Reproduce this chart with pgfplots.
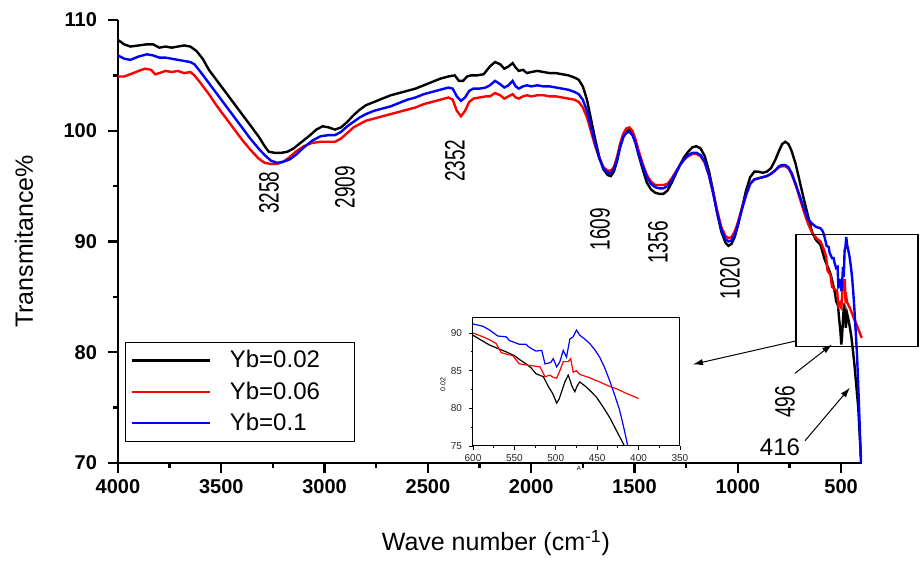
\documentclass[border=0pt]{standalone}
\usepackage{fontspec}
\setmainfont{Liberation Sans}
\newfontfamily\narrowfont[FakeStretch=0.68]{Liberation Sans}
\usepackage{pgfplots}
\pgfplotsset{compat=1.18}
\usepackage{pgfplotstable}
\usetikzlibrary{arrows.meta}

\pgfplotstableread{
x y
4000 108.2
3970 107.8
3940 107.6
3900 107.7
3860 107.8
3830 107.8
3800 107.5
3770 107.6
3740 107.5
3710 107.6
3680 107.7
3650 107.6
3620 107.2
3590 106.5
3560 105.5
3520 104.5
3480 103.5
3440 102.5
3400 101.5
3360 100.5
3320 99.5
3290 98.6
3270 98.1
3240 98.0
3210 98.0
3180 98.1
3150 98.4
3110 99.0
3070 99.6
3040 100.1
3010 100.4
2980 100.3
2950 100.1
2920 100.3
2890 100.8
2860 101.4
2830 101.9
2800 102.3
2760 102.6
2720 102.9
2680 103.2
2640 103.4
2600 103.6
2560 103.8
2520 104.1
2480 104.4
2440 104.7
2400 104.9
2370 105.0
2350 104.5
2330 104.5
2310 104.9
2290 105.0
2260 105.0
2230 105.1
2200 105.8
2175 106.2
2150 106.0
2130 105.6
2110 105.8
2090 106.1
2075 105.7
2060 105.4
2040 105.5
2020 105.2
2000 105.3
1970 105.4
1940 105.3
1910 105.2
1880 105.2
1850 105.1
1820 105.0
1790 104.8
1770 104.6
1750 104.0
1730 102.8
1710 101.0
1690 99.2
1670 97.6
1650 96.5
1630 96.0
1615 95.9
1600 96.3
1585 97.2
1570 98.5
1555 99.4
1540 99.9
1525 100.1
1510 99.8
1495 98.9
1480 97.8
1460 96.5
1440 95.3
1420 94.7
1400 94.4
1380 94.3
1360 94.3
1340 94.6
1320 95.3
1300 96.1
1280 96.9
1260 97.6
1240 98.1
1220 98.5
1200 98.6
1180 98.4
1160 97.7
1140 96.4
1120 94.6
1100 92.6
1080 90.9
1060 89.9
1045 89.6
1030 89.8
1015 90.4
1000 91.4
980 93.0
960 94.6
940 95.8
920 96.3
900 96.3
880 96.2
860 96.3
840 96.6
820 97.3
800 98.2
785 98.8
770 99.0
755 98.8
740 98.2
720 97.0
700 95.4
680 93.8
660 92.3
640 90.8
620 90.1
600 89.7
580 88.4
560 87.5
550 87.0
544 86.5
536 85.9
530 85.4
524 84.6
515 84.2
509 82.9
505 82.2
503 81.8
499 80.7
496 81.2
493 82.2
489 83.5
485 84.4
483 83.8
481 83.1
479 82.6
477 82.2
474 83.0
471 83.5
465 83.0
459 82.4
451 81.5
443 80.2
435 78.8
427 77.1
417 75.0
410 72.5
404 70.5
}\blackdata

\pgfplotstableread{
x y
4000 104.9
3970 104.9
3940 105.1
3900 105.4
3870 105.6
3840 105.5
3820 105.1
3800 105.2
3770 105.4
3740 105.3
3710 105.4
3680 105.2
3650 105.3
3630 105.0
3600 104.3
3560 103.3
3520 102.2
3480 101.2
3440 100.2
3400 99.2
3360 98.3
3320 97.5
3290 97.1
3260 97.0
3230 97.0
3200 97.2
3170 97.6
3140 98.1
3100 98.6
3060 98.9
3020 99.0
2980 99.0
2950 99.0
2920 99.3
2890 99.8
2860 100.3
2830 100.6
2800 100.9
2760 101.1
2720 101.3
2680 101.5
2640 101.7
2600 101.9
2560 102.1
2520 102.4
2480 102.6
2440 102.8
2400 103.0
2380 102.8
2360 101.8
2340 101.3
2320 101.8
2300 102.6
2280 102.9
2250 103.0
2220 103.1
2200 103.1
2175 103.4
2150 103.2
2130 102.9
2110 103.1
2090 103.3
2075 103.0
2060 102.9
2040 103.1
2020 103.2
2000 103.1
1970 103.2
1940 103.2
1910 103.1
1880 103.1
1850 103.0
1820 102.9
1790 102.8
1770 102.6
1750 102.1
1730 101.2
1710 99.9
1690 98.6
1670 97.5
1650 96.7
1630 96.4
1615 96.4
1600 96.7
1585 97.6
1570 98.8
1555 99.7
1540 100.2
1525 100.3
1510 100.0
1495 99.2
1480 98.2
1460 97.0
1440 96.0
1420 95.4
1400 95.1
1380 95.1
1360 95.1
1340 95.2
1320 95.7
1300 96.3
1280 96.9
1260 97.4
1240 97.7
1220 97.9
1200 97.9
1180 97.7
1160 97.1
1140 96.0
1120 94.5
1100 92.8
1080 91.3
1060 90.5
1045 90.3
1030 90.4
1015 90.9
1000 91.7
980 93.0
960 94.2
940 95.2
920 95.6
900 95.7
880 95.8
860 95.9
840 96.1
820 96.4
800 96.7
785 96.8
770 96.8
755 96.6
740 96.1
720 95.1
700 93.9
680 92.7
660 91.6
640 90.8
620 90.3
600 90.0
588 89.5
580 89.1
572 88.6
566 87.4
560 87.2
552 87.0
544 85.9
532 85.7
525 85.6
519 85.5
513 84.2
507 84.4
503 84.1
499 84.0
495 85.0
491 86.2
485 86.2
482 86.6
479 84.8
475 85.0
471 84.5
460 84.1
447 83.5
437 83.0
427 82.6
415 82.0
400 81.3
}\reddata

\pgfplotstableread{
x y
4000 106.8
3970 106.5
3940 106.4
3900 106.7
3860 106.9
3830 106.8
3800 106.6
3770 106.6
3740 106.5
3710 106.4
3680 106.3
3650 106.2
3630 106.0
3600 105.3
3560 104.3
3520 103.3
3480 102.3
3440 101.3
3400 100.3
3360 99.3
3320 98.4
3290 97.8
3260 97.3
3230 97.1
3200 97.2
3170 97.4
3140 97.8
3100 98.5
3060 99.1
3020 99.5
2980 99.6
2950 99.6
2920 99.9
2890 100.4
2860 100.8
2830 101.2
2800 101.5
2760 101.8
2720 102.0
2680 102.2
2640 102.5
2600 102.8
2560 103.0
2520 103.3
2480 103.5
2440 103.7
2400 103.9
2380 103.8
2360 103.1
2340 102.7
2320 103.0
2300 103.6
2280 103.8
2250 103.8
2220 103.9
2200 104.1
2175 104.5
2150 104.2
2130 103.9
2110 104.1
2090 104.5
2075 104.0
2060 103.8
2040 104.0
2020 104.1
2000 104.0
1970 104.1
1940 104.0
1910 104.0
1880 103.9
1850 103.8
1820 103.7
1790 103.5
1770 103.3
1750 102.8
1730 101.8
1710 100.3
1690 98.8
1670 97.5
1650 96.6
1630 96.2
1615 96.2
1600 96.5
1585 97.4
1570 98.5
1555 99.4
1540 99.8
1525 99.9
1510 99.6
1495 98.9
1480 97.9
1460 96.8
1440 95.8
1420 95.2
1400 94.9
1380 94.8
1360 94.8
1340 95.0
1320 95.5
1300 96.2
1280 96.9
1260 97.4
1240 97.8
1220 98.0
1200 98.0
1180 97.8
1160 97.2
1140 96.0
1120 94.4
1100 92.6
1080 91.1
1060 90.2
1045 90.0
1030 90.1
1015 90.6
1000 91.5
980 92.9
960 94.2
940 95.2
920 95.6
900 95.7
880 95.8
860 95.9
840 96.1
820 96.4
800 96.8
785 96.9
770 96.9
755 96.7
740 96.2
720 95.2
700 94.1
680 93.0
660 92.0
640 91.6
620 91.3
600 91.2
588 90.9
580 90.4
570 89.6
560 89.5
556 89.0
544 88.5
536 88.5
532 88.1
524 87.6
517 87.7
513 85.9
509 86.0
506 86.1
503 86.6
499 85.5
495 86.2
491 87.7
487 86.8
483 89.2
479 89.5
475 90.4
471 89.7
465 89.2
459 88.6
453 87.8
447 86.8
441 85.4
435 83.7
429 81.8
423 79.8
418 77.5
413 75.0
408 72.3
404 70.0
}\bluedata

\begin{document}
\begin{tikzpicture}
\begin{axis}[
  name=main, at={(0,0)}, anchor=south west,
  scale only axis, width=372pt, height=221.5pt,
  x dir=reverse, xmin=399, xmax=4000, ymin=70, ymax=110,
  axis x line*=bottom, axis y line*=left,
  axis line style={line width=1.4pt},
  xtick={500,1000,...,4000}, ytick={70,80,...,110},
  minor x tick num=1, minor y tick num=1,
  tick align=outside, major tick length=5pt, minor tick length=2.5pt,
  every tick/.append style={line width=1.2pt, black},
  tick label style={font=\bfseries\fontsize{10}{12}\selectfont},
  yticklabel style={xshift=-2pt},
  /pgf/number format/assume math mode=true,
  /pgf/number format/set thousands separator={},
  xlabel={Wave number (cm\textsuperscript{-1})},
  ylabel={Transmitance\%},
  label style={font=\fontsize{12.5}{14}\selectfont},
  xlabel style={at={(axis description cs:0.508,-0.1806)}, anchor=center},
  ylabel style={at={(axis description cs:-0.1263,0.5)}, anchor=center},
  clip=false,
  legend style={at={(axis description cs:0.0094,0.2731)}, anchor=north west,
    draw=black, line width=0.5pt, font=\fontsize{12}{13}\selectfont,
    inner xsep=2.5pt, inner ysep=1.3pt, row sep=0pt,
    nodes={inner xsep=0pt, inner ysep=2.7pt, text width=60pt, align=left},
    /tikz/column 1/.style={column sep=9.5pt}},
  legend cell align=left,
  legend image code/.code={\draw[#1, line width=1.2pt] (0pt,0pt) -- (39pt,0pt);},
]
\path (rel axis cs:-0.1586,-0.2099) rectangle (rel axis cs:1.078,1.0451);
\draw[line width=1.4pt] (axis cs:4050,70) -- (axis cs:4000,70);
\addplot[black, line width=1.2pt] table {\blackdata};
\addplot[red, line width=1.2pt] table {\reddata};
\addplot[blue, line width=1.2pt] table {\bluedata};
\legend{Yb=0.02, Yb=0.06, Yb=0.1}
\begin{scope}[every node/.style={font=\narrowfont\fontsize{14}{14}\selectfont, rotate=90, inner sep=0pt}]
\node at (axis cs:3269,94.4) {3258};
\node at (axis cs:2901,94.9) {2909};
\node at (axis cs:2369,97.3) {2352};
\node at (axis cs:1667,91.1) {1609};
\node at (axis cs:1386,89.9) {1356};
\node at (axis cs:1038,86.7) {1020};
\node at (axis cs:772,75.5) {496};
\end{scope}
\node[font=\fontsize{12}{12}\selectfont, inner sep=0pt] at (axis cs:796,71.4) {416};
\draw[line width=0.6pt] (axis cs:718,90.6) rectangle (axis cs:128,80.5);
\draw[-{Latex[length=5pt,width=3.2pt]}, line width=0.5pt] (axis cs:723,78.1) -- (axis cs:544,80.7);
\draw[-{Latex[length=5pt,width=3.2pt]}, line width=0.5pt] (axis cs:675,72.0) -- (axis cs:457,76.8);
\draw[-{Latex[length=5pt,width=3.2pt]}, line width=0.5pt] (axis cs:723,81.0) -- (axis cs:1217,78.9);
\end{axis}

\begin{axis}[
  at={(177.5pt,8.5pt)}, anchor=south west, scale only axis,
  width=103.5pt, height=64pt,
  x dir=reverse, xmin=350, xmax=600, ymin=75, ymax=92,
  xtick={350,400,...,600}, ytick={75,80,85,90},
  minor x tick num=1, minor y tick num=1,
  xtick pos=left, ytick pos=left, tick align=outside,
  major tick length=2pt, minor tick length=1.2pt,
  axis line style={line width=0.5pt},
  every tick/.append style={line width=0.4pt, black},
  tick label style={font=\fontsize{5}{6}\selectfont, text=black!85},
  xticklabel style={yshift=1pt},
  /pgf/number format/assume math mode=true,
  axis background/.style={fill=white},
  xlabel={A}, ylabel={0.02},
  xlabel style={at={(axis description cs:0.512,-0.172)}, anchor=center, font=\fontsize{3}{3}\selectfont},
  ylabel style={at={(axis description cs:-0.145,0.477)}, anchor=center, font=\fontsize{3.5}{4}\selectfont},
]
\addplot[black, line width=0.6pt] table {\blackdata};
\addplot[red, line width=0.6pt] table {\reddata};
\addplot[blue, line width=0.6pt] table {\bluedata};
\end{axis}
\end{tikzpicture}
\end{document}
